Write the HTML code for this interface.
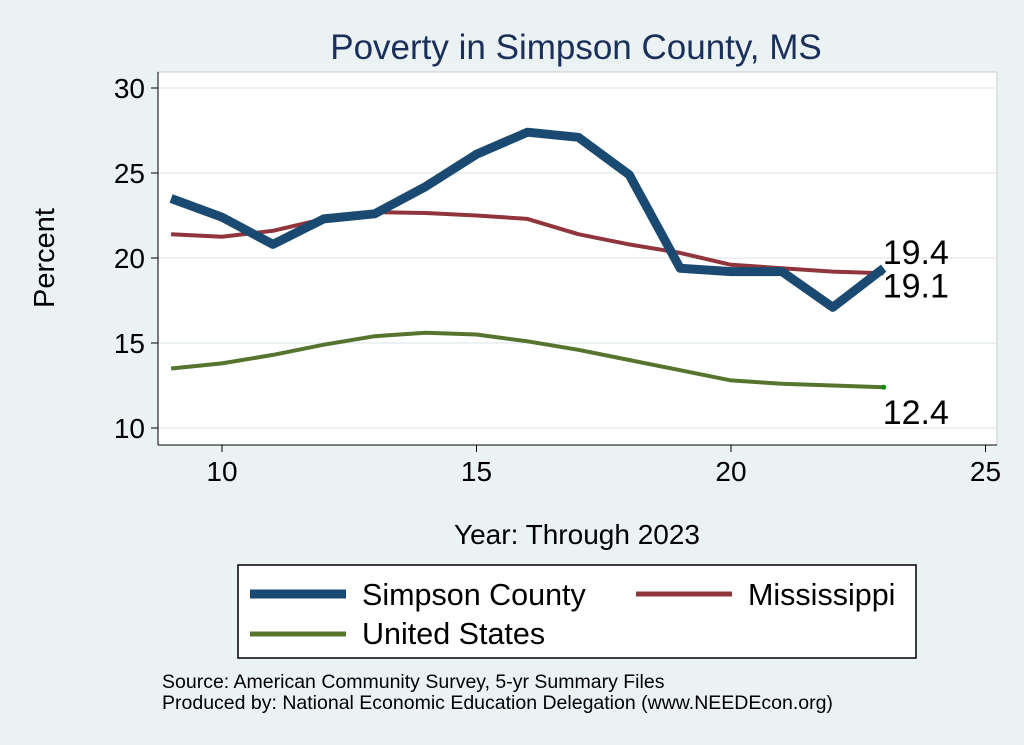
<!DOCTYPE html>
<html><head><meta charset="utf-8"><style>
body{margin:0;background:#eaf2f3;}
svg{display:block;font-family:"Liberation Sans",sans-serif;}
</style></head><body>
<svg width="1024" height="745" viewBox="0 0 1024 745">
<rect x="0" y="0" width="1024" height="745" fill="#eaf2f3"/>
<text x="576" y="59" font-size="35" fill="#1a2f5a" text-anchor="middle">Poverty in Simpson County, MS</text>
<rect x="158" y="72" width="839" height="373" fill="#fff" stroke="#ccc"/>
<g id="grid"></g><g id="ticks"></g><g id="lines"></g>
<text x="54" y="258" font-size="29" text-anchor="middle" transform="rotate(-90 54 258)">Percent</text>
<text x="577" y="544" font-size="28" text-anchor="middle">Year: Through 2023</text>
<g>
<rect x="238" y="565" width="678" height="93" fill="#fff" stroke="#000" stroke-width="1.5"/>
<g><line x1="250" y1="594" x2="346" y2="594" stroke="#1a4a72" stroke-width="9"/><text x="362" y="605" font-size="30.5">Simpson County</text></g>
<g><line x1="636" y1="594" x2="732" y2="594" stroke="#90353b" stroke-width="5"/><text x="748" y="605" font-size="30.5">Mississippi</text></g>
<g><line x1="250" y1="634" x2="346" y2="634" stroke="#55752f" stroke-width="5"/><text x="362" y="644" font-size="30.5">United States</text></g>
</g>
<text x="162" y="688" font-size="19.5">Source: American Community Survey, 5-yr Summary Files</text>
<text x="162" y="709" font-size="19.5">Produced by: National Economic Education Delegation (www.NEEDEcon.org)</text>
</svg>
<script>
const years=[9,10,11,12,13,14,15,16,17,18,19,20,21,22,23];
const simpson=[23.5,22.4,20.8,22.3,22.6,24.2,26.1,27.4,27.1,24.9,19.4,19.2,19.2,17.1,19.4];
const mississippi=[21.4,21.25,21.6,22.3,22.7,22.65,22.5,22.3,21.4,20.8,20.3,19.6,19.4,19.2,19.1];
const us=[13.5,13.8,14.3,14.9,15.4,15.6,15.5,15.1,14.6,14.0,13.4,12.8,12.6,12.5,12.4];
const xTicks=[10,15,20,25];
const yTicks=[10,15,20,25,30];
const NS='http://www.w3.org/2000/svg';
const xs=v=>222+(v-10)*50.9;
const ys=v=>428-(v-10)*17;
function mk(t,a,p){const e=document.createElementNS(NS,t);for(const k in a)e.setAttribute(k,a[k]);p.appendChild(e);return e;}
const grid=document.getElementById('grid'),ticks=document.getElementById('ticks'),lines=document.getElementById('lines');
mk('line',{x1:158,y1:72,x2:158,y2:445,stroke:'#000'},ticks);
mk('line',{x1:158,y1:445,x2:997,y2:445,stroke:'#000'},ticks);
yTicks.forEach(v=>{
 const g=mk('line',{x1:158,x2:997,y1:ys(v),y2:ys(v),stroke:'#e6eeee','stroke-width':1.5},grid);
 
 
 mk('line',{x1:151,x2:158,y1:ys(v),y2:ys(v),stroke:'#000'},ticks);
 const t=mk('text',{x:145,y:ys(v)+10,'font-size':28,'text-anchor':'end'},ticks);t.textContent=v;
 
 
});
xTicks.forEach(v=>{
 mk('line',{x1:xs(v),x2:xs(v),y1:445,y2:452,stroke:'#000'},ticks);
 const t=mk('text',{x:xs(v),y:481,'font-size':28,'text-anchor':'middle'},ticks);t.textContent=v;
 
 
});
function series(d,c,w,name){
 const p=mk('polyline',{points:d.map((v,i)=>xs(years[i])+','+ys(v)).join(' '),fill:'none',stroke:c,'stroke-width':w,'stroke-linejoin':'round'},lines);
 
 
}
series(us,'#55752f',4,'us-line');
series(mississippi,'#90353b',4,'mississippi-line');
series(simpson,'#1a4a72',9,'simpson-line');
const n=years.length-1;
mk('circle',{cx:xs(years[n]),cy:ys(us[n]),r:2.5,fill:'#0a8a0a'},lines);
[[simpson[n],-4,'simpson-end-label'],[mississippi[n],24,'mississippi-end-label'],[us[n],37,'us-end-label']].forEach(([v,dy,nm],i)=>{
 const t=mk('text',{x:xs(years[n])-1,y:ys(i==0?simpson[n]:i==1?mississippi[n]:us[n])+dy,'font-size':34},lines);
 t.textContent=v.toFixed(1);
 
 
});
</script>
</body></html>
